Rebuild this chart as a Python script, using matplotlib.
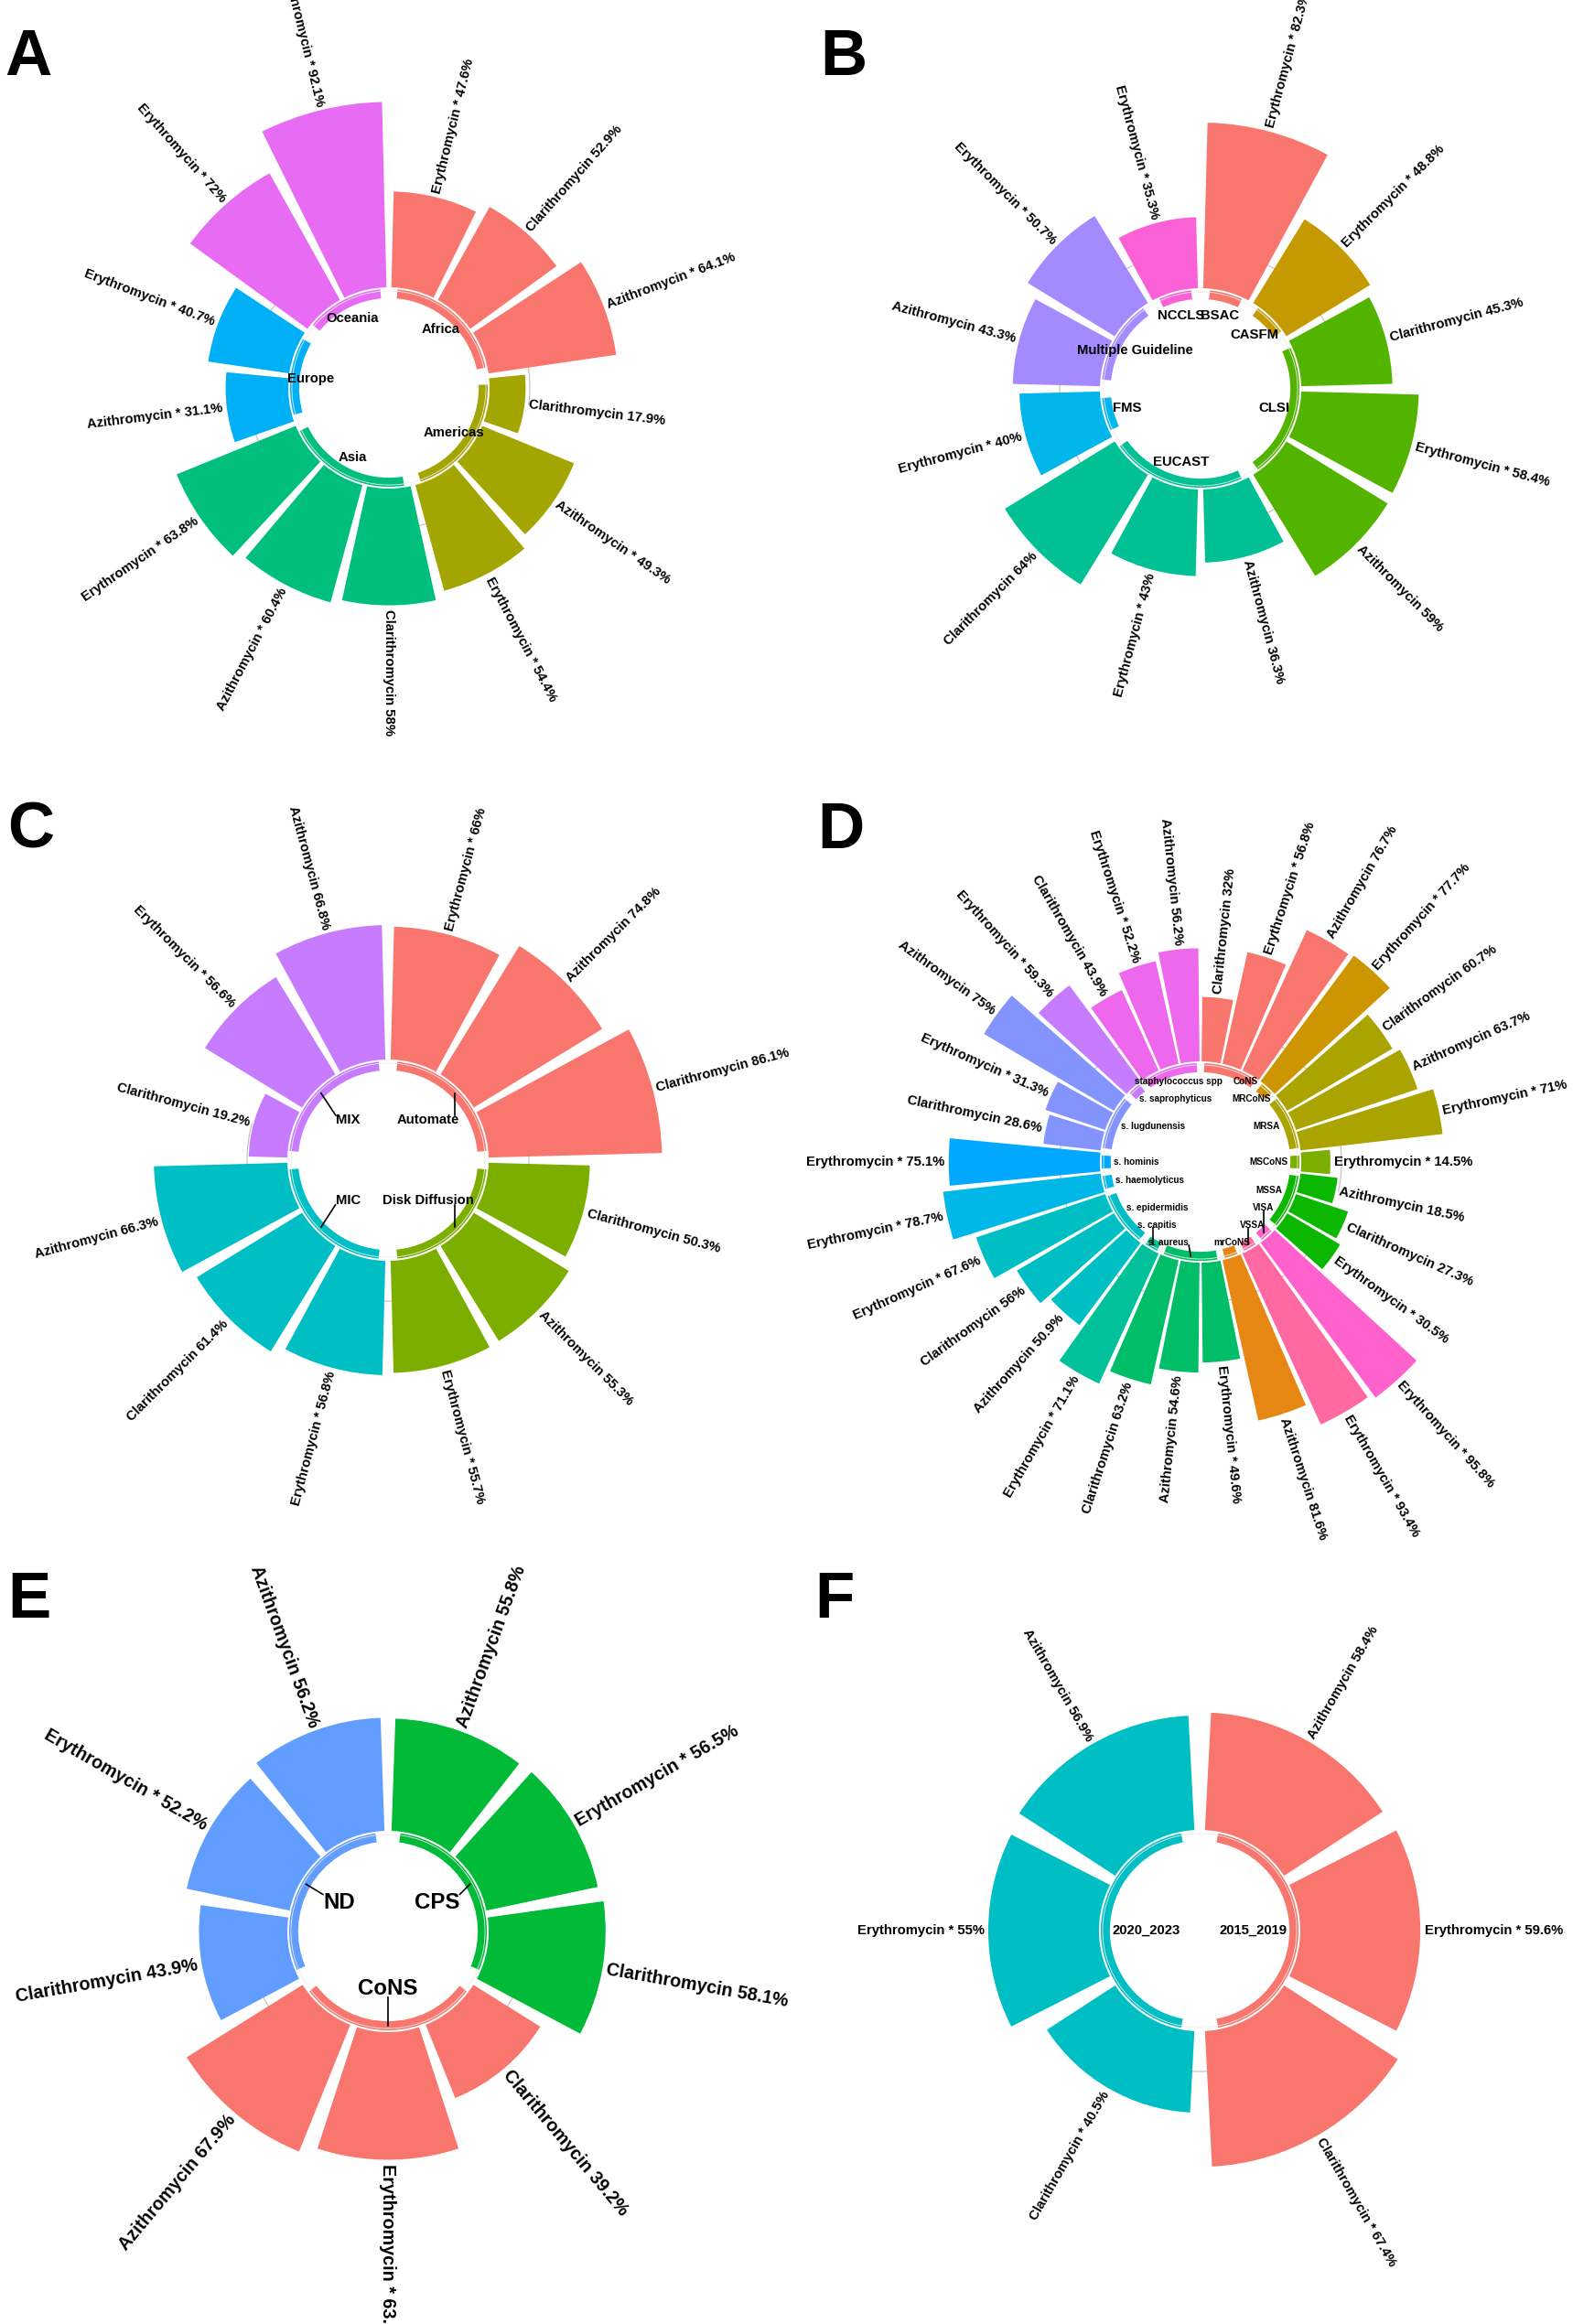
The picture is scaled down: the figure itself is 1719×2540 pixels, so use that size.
import numpy as np
import matplotlib
matplotlib.use("Agg")
import matplotlib.pyplot as plt
from matplotlib.lines import Line2D

W, H, DPI = 1719, 2540, 100
PX = 2.2            # pixels per percentage point
BASE = 50.0         # radial position of the bar baseline
RMAX = 155.0
BAND_B, BAND_H = 44.6, 4.5
RING = 48.2
LINE_R = 47.0

plt.rcParams["font.family"] = ["Liberation Sans", "DejaVu Sans"]

# ---------------- data ----------------
a_group = ["Africa", "Africa", "Africa", "Americas", "Americas", "Americas",
           "Asia", "Asia", "Asia", "Europe", "Europe", "Oceania", "Oceania"]
a_drug = ["Erythromycin *", "Clarithromycin", "Azithromycin *", "Clarithromycin",
          "Azithromycin *", "Erythromycin *", "Clarithromycin", "Azithromycin *",
          "Erythromycin *", "Azithromycin *", "Erythromycin *", "Erythromycin *",
          "Azithromycin *"]
a_value = [47.6, 52.9, 64.1, 17.9, 49.3, 54.4, 58, 60.4, 63.8, 31.1, 40.7, 72, 92.1]

b_group = ["BSAC", "CASFM", "CLSI", "CLSI", "CLSI", "EUCAST", "EUCAST", "EUCAST",
           "FMS", "Multiple Guideline", "Multiple Guideline", "NCCLS"]
b_drug = ["Erythromycin *", "Erythromycin *", "Clarithromycin", "Erythromycin *",
          "Azithromycin", "Azithromycin", "Erythromycin *", "Clarithromycin",
          "Erythromycin *", "Azithromycin", "Erythromycin *", "Erythromycin *"]
b_value = [82.3, 48.8, 45.3, 58.4, 59, 36.3, 43, 64, 40, 43.3, 50.7, 35.3]

c_group = ["Automate"] * 3 + ["Disk Diffusion"] * 3 + ["MIC"] * 3 + ["MIX"] * 3
c_drug = ["Erythromycin *", "Azithromycin", "Clarithromycin",
          "Clarithromycin", "Azithromycin", "Erythromycin *",
          "Erythromycin *", "Clarithromycin", "Azithromycin",
          "Clarithromycin", "Erythromycin *", "Azithromycin"]
c_value = [66, 74.8, 86.1, 50.3, 55.3, 55.7, 56.8, 61.4, 66.3, 19.2, 56.6, 66.8]

d_group = ["CoNS", "CoNS", "CoNS", "MRCoNS", "MRSA", "MRSA", "MRSA", "MSCoNS",
           "MSSA", "MSSA", "MSSA", "VISA", "VSSA", "mrCoNS",
           "s. aureus", "s. aureus", "s. aureus", "s. capitis",
           "s. epidermidis", "s. epidermidis", "s. epidermidis", "s. haemolyticus",
           "s. hominis", "s. lugdunensis", "s. lugdunensis", "s. lugdunensis",
           "s. saprophyticus", "staphylococcus spp", "staphylococcus spp",
           "staphylococcus spp"]
d_drug = ["Clarithromycin", "Erythromycin *", "Azithromycin", "Erythromycin *",
          "Clarithromycin", "Azithromycin", "Erythromycin *", "Erythromycin *",
          "Azithromycin", "Clarithromycin", "Erythromycin *", "Erythromycin *",
          "Erythromycin *", "Azithromycin",
          "Erythromycin *", "Azithromycin", "Clarithromycin", "Erythromycin *",
          "Azithromycin", "Clarithromycin", "Erythromycin *", "Erythromycin *",
          "Erythromycin *", "Clarithromycin", "Erythromycin *", "Azithromycin",
          "Erythromycin *", "Clarithromycin", "Erythromycin *", "Azithromycin"]
d_value = [32, 56.8, 76.7, 77.7, 60.7, 63.7, 71, 14.5, 18.5, 27.3, 30.5, 95.8,
           93.4, 81.6, 49.6, 54.6, 63.2, 71.1, 50.9, 56, 67.6, 78.7, 75.1,
           28.6, 31.3, 75, 59.3, 43.9, 52.2, 56.2]

e_group = ["CPS"] * 3 + ["CoNS"] * 3 + ["ND"] * 3
e_drug = ["Azithromycin", "Erythromycin *", "Clarithromycin",
          "Clarithromycin", "Erythromycin *", "Azithromycin",
          "Clarithromycin", "Erythromycin *", "Azithromycin"]
e_value = [55.8, 56.5, 58.1, 39.2, 63.4, 67.9, 43.9, 52.2, 56.2]

f_group = ["2015_2019"] * 3 + ["2020_2023"] * 3
f_drug = ["Azithromycin", "Erythromycin *", "Clarithromycin *",
          "Clarithromycin *", "Erythromycin *", "Azithromycin"]
f_value = [58.4, 59.6, 67.4, 40.5, 55, 56.9]


def hue_pal(n, c=100.0, l=65.0):
    """ggplot2 default discrete palette (hcl wheel)."""
    out = []
    for h in np.linspace(15, 375, n + 1)[:n]:
        hr = np.radians(h)
        Y = 100 * ((l + 16) / 116) ** 3
        u = c * np.cos(hr) / (13 * l) + 0.1978398
        v = c * np.sin(hr) / (13 * l) + 0.4683363
        X = 9 * Y * u / (4 * v)
        Z = -X / 3 - 5 * Y + 3 * Y / v
        rgb = np.array([3.240479 * X - 1.537150 * Y - 0.498535 * Z,
                        -0.969256 * X + 1.875992 * Y + 0.041556 * Z,
                        0.055648 * X - 0.204043 * Y + 1.057311 * Z]) / 100
        rgb = np.where(rgb > 0.00304, 1.055 * np.abs(rgb) ** (1 / 2.4) - 0.055, 12.92 * rgb)
        out.append(np.clip(rgb, 0, 1))
    return out


fig = plt.figure(figsize=(W / DPI, H / DPI), dpi=DPI)
fig.patch.set_facecolor("white")
renderer = fig.canvas.get_renderer()


def add_leader(ax, th, bb, min_len=0.0):
    px, py = ax.transData.transform((th, LINE_R))
    qx = min(max(px, bb[0]), bb[1])
    qy = min(max(py, bb[2] + 2), bb[3] - 2)
    if np.hypot(qx - px, qy - py) <= min_len:
        return
    f = fig.transFigure.inverted().transform([[px, py], [qx, qy]])
    fig.add_artist(Line2D(f[:, 0], f[:, 1], color="black", lw=1.2,
                          transform=fig.transFigure))


def repel_labels(ax, names, ths, fs, r_in=95.0, gap=10.0, vgap=9.0, lim=88.0):
    ox, oy = ax.transData.transform((0, 0))
    items = []
    for g, th in zip(names, ths):
        t = ax.text(0, 0, g, fontsize=fs, fontweight="bold", ha="center", va="center")
        bb = t.get_window_extent(renderer)
        items.append(dict(t=t, th=th, s=1 if np.sin(th) > 0 else -1,
                          w=bb.width, h=bb.height, y=r_in * np.cos(th), xo=0.0))

    def box(it):
        half = np.sqrt(max(r_in ** 2 - it["y"] ** 2, 0))
        e = it["s"] * half + it["xo"]
        x0 = e - it["w"] if it["s"] > 0 else e
        return x0, x0 + it["w"], it["y"] - it["h"] / 2, it["y"] + it["h"] / 2

    for _ in range(600):
        moved = False
        for i in range(len(items)):
            for j in range(i + 1, len(items)):
                a, b = items[i], items[j]
                a0, a1, ay0, ay1 = box(a)
                b0, b1, by0, by1 = box(b)
                if a1 + gap <= b0 or b1 + gap <= a0 or ay1 + vgap <= by0 or by1 + vgap <= ay0:
                    continue
                moved = True
                if a["s"] == b["s"]:
                    up, dn = (a, b) if a["y"] >= b["y"] else (b, a)
                    d = (box(dn)[3] + vgap - box(up)[2]) / 2
                    up["y"] += d * 0.5
                    dn["y"] -= d * 0.5
                else:
                    rt, lf = (a, b) if a["s"] > 0 else (b, a)
                    d = (box(lf)[1] + gap - box(rt)[0]) / 2
                    rt["xo"] += d * 0.5
                    lf["xo"] -= d * 0.5
        for it in items:
            it["y"] = float(np.clip(it["y"], -lim, lim))
        if not moved:
            break

    for it in items:
        x0, x1, y0, y1 = box(it)
        xd, yd = ox + (x0 + x1) / 2, oy + it["y"]
        it["t"].set_position(ax.transData.inverted().transform((xd, yd)))
        add_leader(ax, it["th"], (ox + x0, ox + x1, oy + y0, oy + y1), min_len=12)


def draw_panel(letter, letter_xy, center, groups, drugs, values,
               fs_bar, fs_grp, mode, lab_r):
    cx, cy = center
    rpx = RMAX * PX
    ax = fig.add_axes([(cx - rpx) / W, 1 - (cy + rpx) / H, 2 * rpx / W, 2 * rpx / H],
                      projection="polar")
    ax.set_theta_zero_location("N")
    ax.set_theta_direction(-1)
    ax.set_ylim(0, RMAX)
    ax.axis("off")
    ax.patch.set_visible(False)

    n = len(values)
    slot = 2 * np.pi / n
    theta = (np.arange(n) + 0.5) * slot
    vals = np.asarray(values, float)

    uniq = list(dict.fromkeys(groups))
    order = sorted(uniq, key=lambda s: (s.lower(), s.swapcase()))
    pal = hue_pal(len(uniq))
    gcol = {g: pal[order.index(g)] for g in uniq}
    members = {g: [i for i, x in enumerate(groups) if x == g] for g in uniq}

    # faint grid arcs at 20 % between groups
    for prev, cur in zip(uniq[:-1], uniq[1:]):
        t = np.linspace(theta[members[prev][-1]], theta[members[cur][0]], 40)
        ax.plot(t, np.full_like(t, BASE + 20), color="#BEBEBE", lw=0.8, zorder=1)

    ax.bar(theta, vals, width=0.9 * slot, bottom=BASE,
           color=[gcol[g] for g in groups], linewidth=0, zorder=2)

    # group bands around the inner circle
    for g in uniq:
        t0 = theta[members[g][0]] - 0.32 * slot
        t1 = theta[members[g][-1]] + 0.32 * slot
        ax.bar((t0 + t1) / 2, BAND_H, width=t1 - t0, bottom=BAND_B,
               color=gcol[g], linewidth=0, zorder=2)
    tt = np.linspace(0, 2 * np.pi, 600)
    ax.plot(tt, np.full_like(tt, RING), color="#EBEBEB", lw=0.6, zorder=3)

    # bar labels
    for i in range(n):
        right = (i + 0.5) / n <= 0.5 + 1e-9
        deg = np.degrees(theta[i])
        ax.text(theta[i], BASE + vals[i] + 2, f"{drugs[i]} {values[i]:g}%",
                rotation=(90 - deg) if right else (270 - deg), rotation_mode="anchor",
                ha="left" if right else "right", va="center",
                fontsize=fs_bar, fontweight="bold", color="black", zorder=5)

    # group labels
    thc = [theta[members[g]].mean() for g in uniq]
    if mode == "repel":
        repel_labels(ax, uniq, thc, fs_grp)
    else:
        for g, th in zip(uniq, thc):
            t = ax.text(th, lab_r / PX, g, ha="center", va="center",
                        fontsize=fs_grp, fontweight="bold", color="black", zorder=5)
            if mode == "line":
                bb = t.get_window_extent(renderer)
                add_leader(ax, th, (bb.x0, bb.x1, bb.y0, bb.y1))

    fig.text(letter_xy[0] / W, 1 - letter_xy[1] / H, letter, fontsize=51,
             fontweight="bold", ha="left", va="baseline", color="black")


draw_panel("A", (5, 82), (425, 424), a_group, a_drug, a_value, 10.7, 10.7, "center", 86)
draw_panel("B", (896, 82), (1312, 425), b_group, b_drug, b_value, 10.7, 10.7, "center", 83)
draw_panel("C", (8, 927), (424, 1268), c_group, c_drug, c_value, 10.7, 10.7, "line", 62)
draw_panel("D", (893, 927), (1312, 1270), d_group, d_drug, d_value, 10.7, 7.2, "repel", None)
draw_panel("E", (8, 1768), (424, 2111), e_group, e_drug, e_value, 14.2, 17.3, "line", 62)
draw_panel("F", (890, 1768), (1311, 2110), f_group, f_drug, f_value, 10.7, 10.7, "center", 58)

fig.savefig("out.png", dpi=DPI, facecolor="white")
